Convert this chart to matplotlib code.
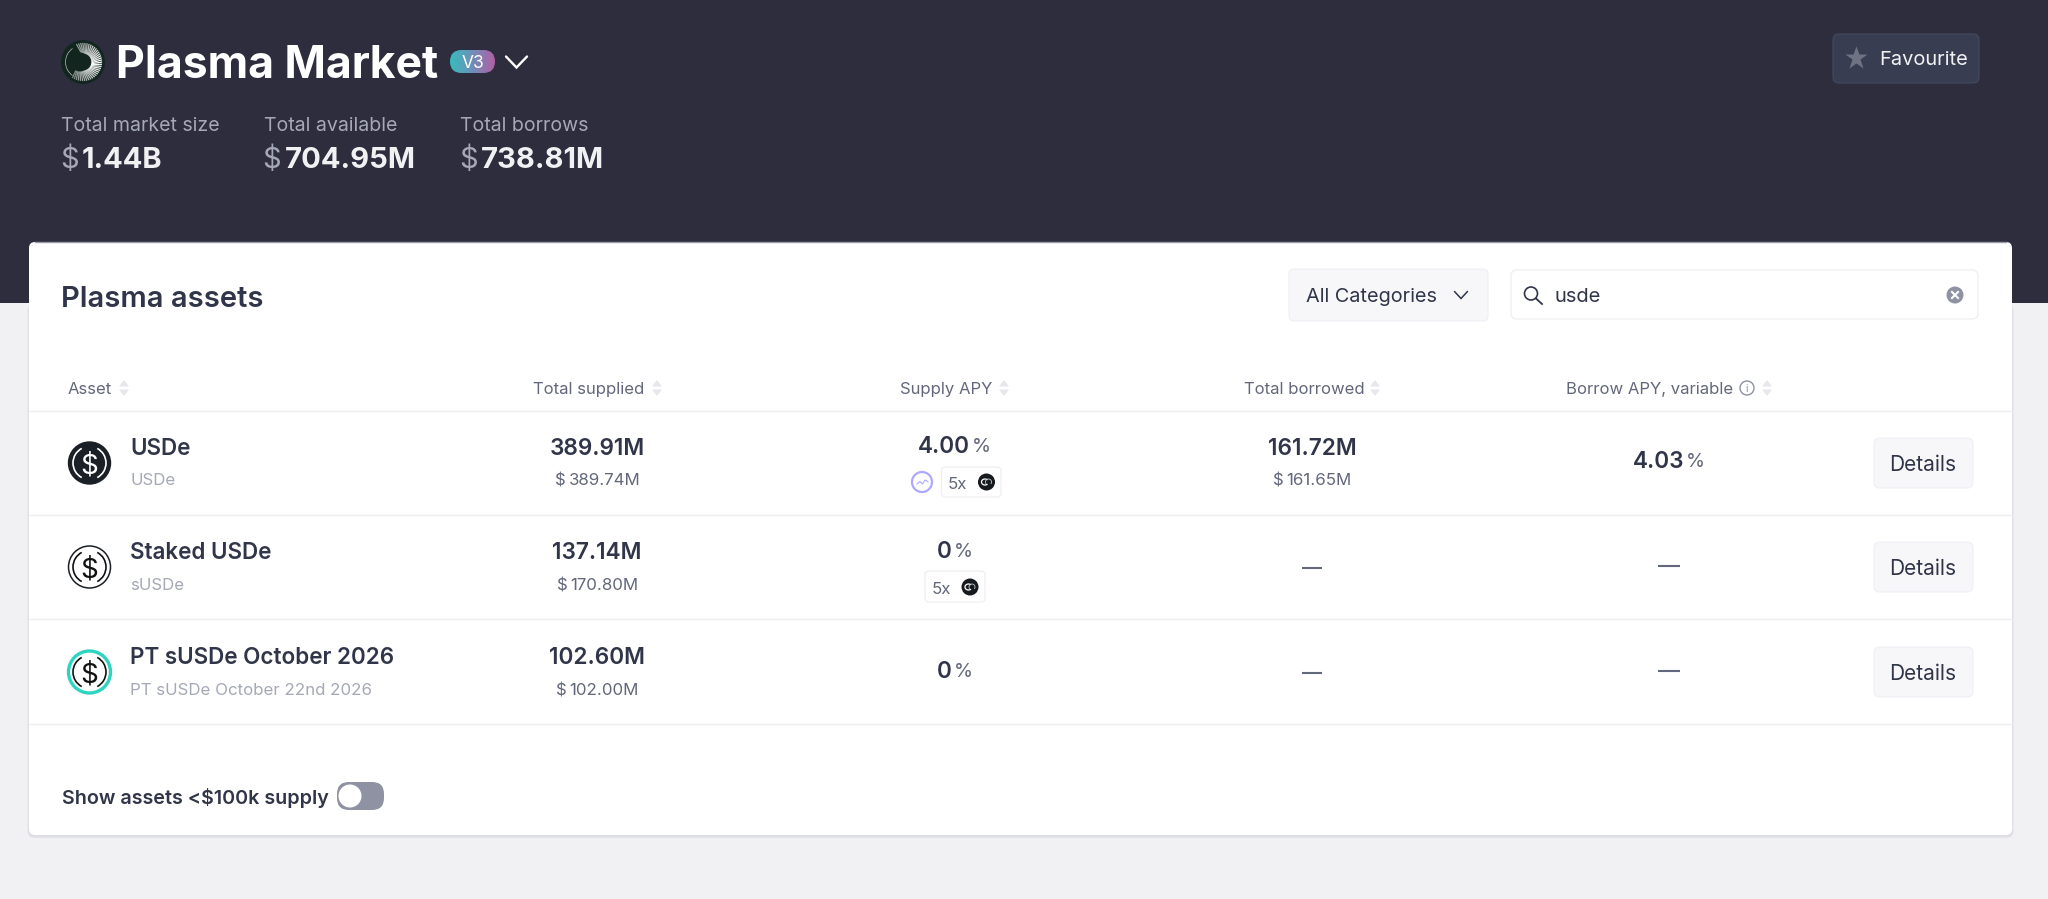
import numpy as np
import matplotlib
matplotlib.use("Agg")
import matplotlib.pyplot as plt
from matplotlib.patches import Circle, Arc, FancyBboxPatch, Rectangle

plt.rcParams['font.family'] = ['Inter', 'DejaVu Sans']

# ---------- content ----------
market_title = "Plasma Market"
version = "V3"
stat_labels = ["Total market size", "Total available", "Total borrows"]
stat_values = ["1.44B", "704.95M", "738.81M"]
column_heads = ["Asset", "Total supplied", "Supply APY", "Total borrowed", "Borrow APY, variable"]
asset_names = ["USDe", "Staked USDe", "PT sUSDe October 2026"]
asset_symbols = ["USDe", "sUSDe", "PT sUSDe October 22nd 2026"]
supplied = ["389.91M", "137.14M", "102.60M"]
supplied_usd = ["389.74M", "170.80M", "102.00M"]
supply_apy = ["4.00", "0", "0"]
borrowed = ["161.72M", None, None]
borrowed_usd = ["161.65M", None, None]
borrow_apy = ["4.03", None, None]

# ---------- palette ----------
DARK = '#2E2D3E'; PAGE = '#F1F1F3'; INK = '#303549'; SEC = '#62677B'
MUTED = '#A5A8B6'; LINE = '#EEEFF2'; BTN = '#F7F7F9'

fig = plt.figure(figsize=(20.48, 8.99), dpi=100, facecolor=PAGE)
ax = fig.add_axes([0, 0, 1, 1])
ax.set_axis_off()


def box(x0, y0, x1, y1, r, fc, ec='none', lw=1, z=2, **kw):
    p = FancyBboxPatch((x0, y0), x1 - x0, y1 - y0, boxstyle=f"round,pad=0,rounding_size={r}",
                       fc=fc, ec=ec, lw=lw, zorder=z, **kw)
    ax.add_patch(p)
    return p


def T(x, y, s, size, color=INK, weight='normal', ha='left', z=5):
    """y is the visual centre of the capitals."""
    px = size / 0.72
    return ax.text(x, y + 0.3636 * px, s, fontsize=size, color=color, fontweight=weight,
                   ha=ha, va='baseline', zorder=z)


def width(s, size, weight='normal'):
    t = ax.text(0, 0, s, fontsize=size, fontweight=weight)
    w = t.get_window_extent(fig.canvas.get_renderer()).width
    t.remove()
    return w


def pair(cx, y, a, b, sa, sb, ca, cb, wa, wb, gap):
    """Two runs of text centred together on cx."""
    w1, w2 = width(a, sa, wa), width(b, sb, wb)
    x = cx - (w1 + gap + w2) / 2
    T(x, y, a, sa, ca, wa)
    T(x + w1 + gap, y, b, sb, cb, wb)


def chevron(cx, cy, w, h, color, lw):
    ax.plot([cx - w, cx, cx + w], [cy - h, cy + h, cy - h], color=color, lw=lw, zorder=6,
            solid_capstyle='round', solid_joinstyle='miter')


def sort_icon(cx, cy):
    c = '#E6E7EC'
    ax.fill([cx - 5, cx + 5, cx], [cy - 1.5, cy - 1.5, cy - 8], color=c, lw=0, zorder=5)
    ax.fill([cx - 5, cx + 5, cx], [cy + 1.5, cy + 1.5, cy + 8], color=c, lw=0, zorder=5)


def dash(x0, x1, y):
    ax.plot([x0, x1], [y, y], color=SEC, lw=1.5, zorder=5, solid_capstyle='butt')


def coin(cx, cy, r=8.5):
    ax.add_patch(Circle((cx, cy), r, fc='#16191E', ec='none', zorder=6))
    ax.add_patch(Arc((cx - 1.5, cy), 7, 6, theta1=40, theta2=320, color='white', lw=0.9, zorder=7))
    ax.add_patch(Arc((cx + 2, cy), 6, 6, theta1=140, theta2=400, color='#C9CBD3', lw=0.6, zorder=7))


# ---------- backgrounds ----------
ax.add_patch(Rectangle((0, 0), 2048, 303, fc=DARK, ec='none', zorder=1))
box(27.5, 304, 2013.5, 838, 7, '#E3E4E8', z=2)
box(28.5, 304, 2012.5, 836.5, 6, '#DCDDE2', z=2)
box(29, 242, 2012, 835, 6, 'white', z=3)
ax.plot([35, 2006], [242, 242], color='#9A9BA7', lw=1, zorder=4)

# ---------- header ----------
ax.add_patch(Circle((83, 62), 22, fc='#12261F', ec='none', zorder=4))
for a in np.arange(-110, 125, 6.5):
    ra = np.deg2rad(a)
    rb = np.deg2rad(a + 10)
    fade = 1 - 0.55 * abs(a) / 125
    ax.plot([83 + 9 * np.cos(rb), 83 + 18.5 * np.cos(ra)],
            [62 + 9 * np.sin(rb), 62 + 18.5 * np.sin(ra)], color='white', lw=0.9,
            alpha=fade, zorder=5)
ax.add_patch(Arc((82, 62), 33, 33, theta1=125, theta2=235, color='#B8BDBB', lw=0.5, zorder=5))
ax.add_patch(Circle((80, 62), 9.5, fc='#12261F', ec='none', zorder=6))

T(116, 62, market_title, 32, 'white', 'bold')

badge = box(450, 50, 495, 73, 11.5, 'none', z=4)
grad = np.linspace(0, 1, 90)[None, :]
cmap = matplotlib.colors.LinearSegmentedColormap.from_list('b', ['#36BCBE', '#6F8FB8', '#B25FA5'])
im = ax.imshow(grad, extent=(450, 495, 73, 50), cmap=cmap, aspect='auto', zorder=4)
im.set_clip_path(badge)
T(472.5, 61.5, version, 12.5, 'white', ha='center')
chevron(516.5, 62, 10.5, 5.5, 'white', 1.7)

stat_x = [61, 264, 460]
dollar_x = [60, 262, 459]
value_x = [82, 285, 481]
for lab, val, xl, xd, xv in zip(stat_labels, stat_values, stat_x, dollar_x, value_x):
    T(xl, 124, lab, 14.05, MUTED)
    T(xd, 157, '$', 21, MUTED)
    T(xv, 157, val, 21, '#F1F1F3', 'bold')

# favourite
box(1833, 34, 1979, 83, 6, '#383D51', ec='#444A5E', lw=0.8, z=3)
ax.plot([1856], [57.5], marker='*', ms=17, color='#6F7283', mec='none', zorder=5)
T(1879, 58, 'Favourite', 14.4, '#F1F1F3')

# ---------- card header ----------
T(61, 296, 'Plasma assets', 21, INK, 'semibold')
box(1289, 269, 1488, 321, 5, BTN, ec=LINE, lw=0.8, z=4)
T(1306, 295, 'All Categories', 14.3, INK)
chevron(1461, 295, 6.5, 3.5, INK, 1.1)
box(1511, 270, 1978, 319, 6, 'white', ec='#F0F0F3', lw=1, z=4)
ax.add_patch(Circle((1531, 293.5), 6.5, fc='none', ec=INK, lw=1.2, zorder=5))
ax.plot([1536, 1542], [298.5, 304], color=INK, lw=1.3, zorder=5)
T(1555, 295, 'usde', 14.5, INK)
ax.add_patch(Circle((1955, 295), 8.5, fc='#8E92A3', ec='none', zorder=5))
ax.plot([1952, 1958], [292, 298], color='white', lw=1.5, zorder=6)
ax.plot([1952, 1958], [298, 292], color='white', lw=1.5, zorder=6)

# ---------- table header ----------
head_x = [68, 533, 900, 1244, 1566]
sort_x = [124, 657, 1004, 1375, 1767]
for h, xh, xs in zip(column_heads, head_x, sort_x):
    T(xh, 388, h, 12.0, SEC)
    sort_icon(xs, 388)
ax.add_patch(Circle((1747, 388), 7, fc='none', ec='#8E92A3', lw=1, zorder=5))
T(1747, 388, 'i', 7.5, '#8E92A3', ha='center')

# ---------- rows ----------
for y in [411, 515, 619, 724]:
    ax.plot([29, 2012], [y, y], color=LINE, lw=1, zorder=4)

row_icon_y = [463, 567, 672]
name_y = [447, 551, 656]
sub_y = [479, 584, 689]
apy_y = [445, 550, 670]
dash_borrow_y = [None, 568, 673]
dash_apy_y = [None, 566, 671]
icon_fc = ['#1B2026', 'white', 'white']
icon_ec = ['#1B2026', '#1B2026', '#2DD4BF']
icon_lw = [1, 1.1, 2.4]
icon_fg = ['white', '#111111', '#111111']
for i in range(3):
    cy = row_icon_y[i]
    ax.add_patch(Circle((89.5, cy), 21, fc=icon_fc[i], ec=icon_ec[i], lw=icon_lw[i], zorder=5))
    for th1, th2 in [(-62, 62), (118, 242)]:
        ax.add_patch(Arc((89.5, cy), 33, 33, theta1=th1, theta2=th2, color=icon_fg[i], lw=1.2, zorder=6))
    T(89.5, cy, '$', 20, icon_fg[i], 'normal', ha='center', z=7)

    T(130.5, name_y[i], asset_names[i], 16.15, INK, 'semibold')
    T(130.5, sub_y[i], asset_symbols[i], 12.15, MUTED)

    T(597, name_y[i], supplied[i], 16.3, INK, 'semibold', ha='center')
    pair(597.5, sub_y[i], '$', supplied_usd[i], 12.15, 12.15, SEC, SEC, 'normal', 'normal', 3)

    pair(954.5, apy_y[i], supply_apy[i], '%', 16.3, 14, INK, SEC, 'semibold', 'normal', 2)

    if borrowed[i] is not None:
        T(1312, name_y[i], borrowed[i], 16.3, INK, 'semibold', ha='center')
        pair(1312, sub_y[i], '$', borrowed_usd[i], 12.15, 12.15, SEC, SEC, 'normal', 'normal', 3)
    else:
        dash(1302, 1322, dash_borrow_y[i])
    if borrow_apy[i] is not None:
        pair(1669, 460, borrow_apy[i], '%', 16.3, 14, INK, SEC, 'semibold', 'normal', 1.5)
    else:
        dash(1658, 1680, dash_apy_y[i])

    box(1874, cy - 25, 1973, cy + 25, 6, BTN, ec=LINE, lw=0.8, z=4)
    T(1923, cy, 'Details', 15, INK, ha='center')

# incentive badges
ax.add_patch(Circle((922, 482), 10, fc='white', ec='#AEA9FF', lw=1.6, zorder=5))
ax.plot([917, 920, 922.5, 925, 928], [484, 481.5, 484, 480, 481.5], color='#AEA9FF', lw=0.8, zorder=6)
for x0, x1, y0, y1, tx, cx, cy in [(941.5, 1001, 467, 497, 948, 986.5, 482),
                                   (925, 985, 571, 602, 932, 970, 587)]:
    box(x0, y0, x1, y1, 4, 'white', ec='#F0F0F3', lw=1, z=4)
    T(tx, cy + 1, '5x', 12.15, SEC)
    coin(cx, cy)

# ---------- footer ----------
T(62, 797, 'Show assets <$100k supply', 14.2, INK, 'semibold')
box(337, 782, 384, 810, 12, '#8E92A3', z=4)
ax.add_patch(Circle((350, 796), 11.5, fc='white', ec='none', zorder=5))

ax.set_xlim(0, 2048)
ax.set_ylim(899, 0)
fig.savefig('out.png', dpi=100, facecolor=PAGE)
